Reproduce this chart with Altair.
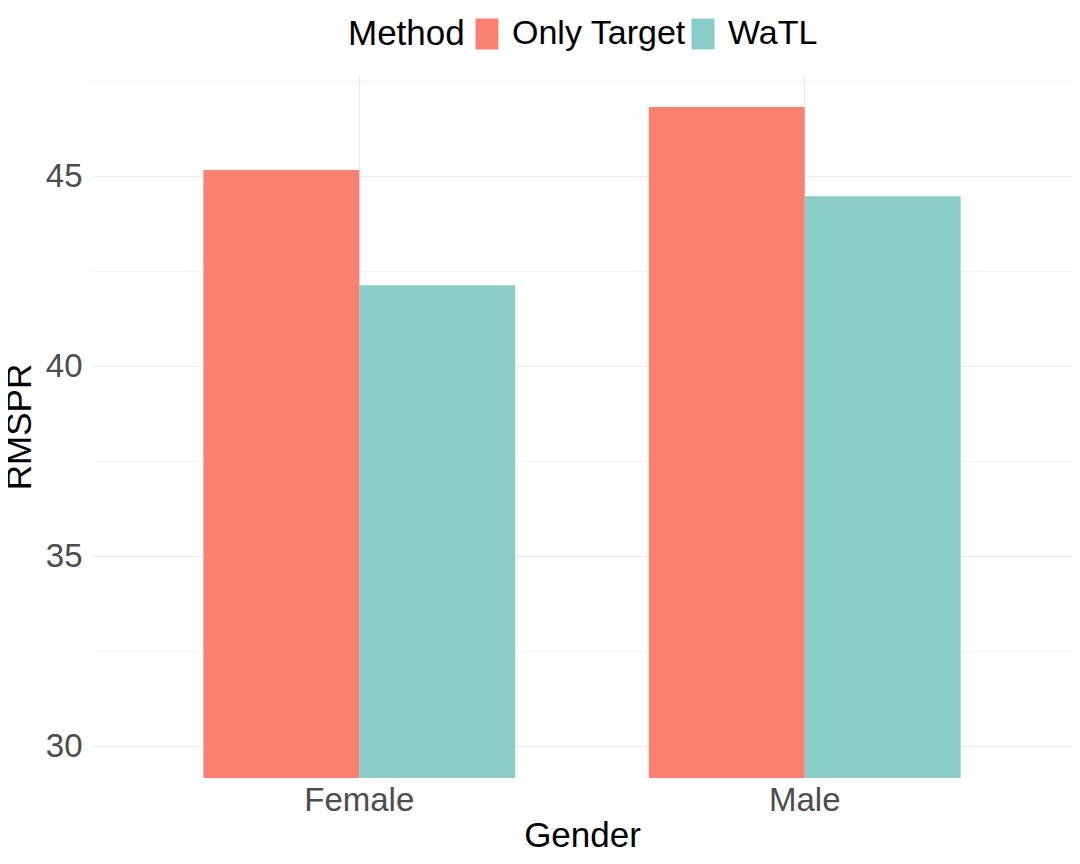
import altair as alt
import pandas as pd

genders = ["Female", "Female", "Male", "Male"]
methods = ["Only Target", "WaTL", "Only Target", "WaTL"]
rmspr = [45.16, 42.13, 46.82, 44.47]

method_order = ["Only Target", "WaTL"]
method_colors = ["#FA8072", "#8ACDC7"]
y_ticks = [30, 32.5, 35, 37.5, 40, 42.5, 45, 47.5]
y_domain = [29.16, 47.66]

df = pd.DataFrame({"Gender": genders, "Method": methods, "RMSPR": rmspr})

FONT = "Liberation Sans"

chart = alt.Chart(df).mark_bar(clip=True).encode(
    x=alt.X(
        "Gender:N",
        scale=alt.Scale(paddingInner=0.3, paddingOuter=0.25),
        axis=alt.Axis(
            title="Gender",
            labelAngle=0,
            labelFontSize=33,
            labelColor="#4D4D4D",
            labelPadding=6,
            titleFontSize=35,
            titleFontWeight="normal",
            titleColor="black",
            titlePadding=1,
            domain=False,
            ticks=False,
            grid=True,
            gridColor="#EBEBEB",
            gridWidth=1.1,
        ),
    ),
    xOffset=alt.XOffset(
        "Method:N",
        sort=method_order,
        scale=alt.Scale(paddingInner=0, paddingOuter=0),
    ),
    y=alt.Y(
        "RMSPR:Q",
        scale=alt.Scale(domain=y_domain, zero=False, nice=False),
        axis=alt.Axis(
            title="RMSPR",
            values=y_ticks,
            labelExpr="datum.value % 5 === 0 ? datum.label : ''",
            labelFontSize=33,
            labelColor="#4D4D4D",
            labelPadding=10,
            titleFontSize=35,
            titleFontWeight="normal",
            titleColor="black",
            titlePadding=8,
            domain=False,
            ticks=False,
            grid=True,
            gridColor="#EBEBEB",
            gridWidth={"condition": {"test": "datum.value % 5 === 0", "value": 1.2}, "value": 0.6},
        ),
    ),
    color=alt.Color(
        "Method:N",
        sort=method_order,
        scale=alt.Scale(domain=method_order, range=method_colors),
        legend=alt.Legend(
            title="Method",
            orient="none",
            legendX=256,
            legendY=-58,
            direction="horizontal",
            titleOrient="left",
            titleFontSize=35,
            titleFontWeight="normal",
            titleColor="black",
            titlePadding=5,
            labelFontSize=34,
            labelColor="black",
            labelOffset=8,
            labelLimit=0,
            columnPadding=0,
            symbolType="M-0.74,-1L0.74,-1L0.74,1L-0.74,1Z",
            symbolSize=961,
            symbolStrokeWidth=0,
            symbolOpacity=1,
        ),
    ),
).properties(
    width=980,
    height=703,
    autosize=alt.AutoSizeParams(type="none"),
    padding={"left": 84, "top": 67, "right": 0, "bottom": 78},
).configure(
    font=FONT
).configure_view(
    stroke=None
)

chart.save("out.html", embed_options={"renderer": "svg", "actions": False})
